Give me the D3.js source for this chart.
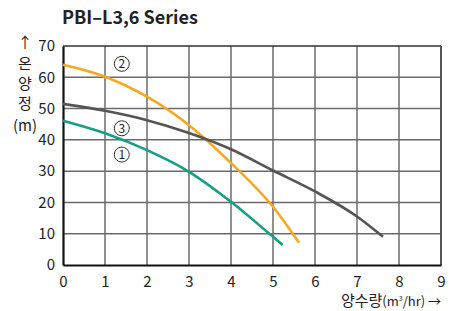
<!DOCTYPE html>
<html>
<head>
<meta charset="utf-8">
<script src="https://cdn.jsdelivr.net/npm/d3@7"></script>
<style>
  body { margin: 0; background: #fff; }
  svg text { font-family: "Noto Sans CJK KR", "Noto Sans", sans-serif; fill: #222; }
</style>
</head>
<body>
<svg id="chart" width="454" height="311"></svg>
<script>
// curves: [flow m3/hr, head m]
var curve1 = [[0, 46.1], [1, 42.1], [2, 36.7], [3, 29.8], [4, 20.2], [5, 9.0], [5.23, 6.4]];
var curve2 = [[0, 64.0], [1, 60.2], [2, 53.8], [3, 44.7], [4, 32.6], [5, 18.6], [5.62, 7.1]];
var curve3 = [[0, 51.5], [1, 49.3], [2, 46.3], [3, 42.2], [4, 37.0], [5, 30.2], [6, 23.5], [7, 15.5], [7.62, 9.0]];
var xTicks = [0, 1, 2, 3, 4, 5, 6, 7, 8, 9];
var yTicks = [0, 10, 20, 30, 40, 50, 60, 70];
var labelNames = ["1", "2", "3"];
var labelPos = [[1.4, 35.3], [1.4, 64.3], [1.4, 43.7]];
var yLabelChars = ["↑", "온", "양", "정", "(m)"];

var svg = d3.select("#chart");
var margin = {top: 46, right: 13, bottom: 46, left: 63},
    width = 454 - margin.left - margin.right,
    height = 311 - margin.top - margin.bottom;

var x = d3.scaleLinear().domain([0, 9]).range([0, width]);
var y = d3.scaleLinear().domain([0, 70]).range([height, 0]);

var g = svg.append("g")
    .attr("transform", "translate(" + margin.left + "," + margin.top + ")");

// grid
g.selectAll(".vgrid").data(xTicks.slice(1, -1)).enter().append("line")
    .attr("x1", function(d) { return x(d); }).attr("x2", function(d) { return x(d); })
    .attr("y1", 0).attr("y2", height)
    .attr("stroke", "#555").attr("stroke-width", 1.3);
g.selectAll(".hgrid").data(yTicks.slice(1, -1)).enter().append("line")
    .attr("y1", function(d) { return y(d); }).attr("y2", function(d) { return y(d); })
    .attr("x1", 0).attr("x2", width)
    .attr("stroke", "#6a6a6a").attr("stroke-width", 1.5);

// frame
g.append("line").attr("x1", 0).attr("x2", width).attr("y1", 0).attr("y2", 0)
    .attr("stroke", "#333").attr("stroke-width", 1.3);
g.append("line").attr("x1", width).attr("x2", width).attr("y1", 0).attr("y2", height)
    .attr("stroke", "#555").attr("stroke-width", 2);

// axes
var xAxis = d3.axisBottom(x).tickValues(xTicks).tickSize(0).tickPadding(11);
var yAxis = d3.axisLeft(y).tickValues(yTicks).tickSize(0).tickPadding(8);

var gx = g.append("g").attr("transform", "translate(0," + height + ")").call(xAxis);
var gy = g.append("g").call(yAxis);
[gx, gy].forEach(function(a) {
  a.select(".domain").attr("stroke", "#111").attr("stroke-width", 2.2);
  a.selectAll("text").attr("font-size", 15).attr("fill", "#222")
    .attr("font-family", "'Noto Sans CJK KR', sans-serif");
});

// curves
var line = d3.line()
    .x(function(d) { return x(d[0]); })
    .y(function(d) { return y(d[1]); })
    .curve(d3.curveMonotoneX);

var series = [
  {data: curve1, color: "#14a085"},
  {data: curve2, color: "#f7a81e"},
  {data: curve3, color: "#555555"}
];
series.forEach(function(s) {
  g.append("path").datum(s.data)
    .attr("d", line)
    .attr("fill", "none")
    .attr("stroke", s.color)
    .attr("stroke-width", 2.6);
});

// circled labels
labelNames.forEach(function(n, i) {
  var cx = x(labelPos[i][0]), cy = y(labelPos[i][1]);
  g.append("circle").attr("cx", cx).attr("cy", cy).attr("r", 7.5)
    .attr("fill", "none").attr("stroke", "#333").attr("stroke-width", 1);
  g.append("text").attr("x", cx).attr("y", cy + 4.5)
    .attr("text-anchor", "middle").attr("font-size", 12).text(n);
});

// title
svg.append("text").attr("x", 62).attr("y", 24)
  .attr("font-size", 18).attr("font-weight", "bold").attr("fill", "#111")
  .text("PBI–L3,6 Series");

// y axis label, stacked
var yLabY = [48, 69, 89, 109, 131];
yLabelChars.forEach(function(c, i) {
  svg.append("text").attr("x", 25).attr("y", yLabY[i])
    .attr("text-anchor", "middle").attr("font-size", 15).text(c);
});

// x axis title
var xt = svg.append("text").attr("x", 441).attr("y", 306)
  .attr("text-anchor", "end").attr("font-size", 15);
xt.append("tspan").text("양수량");
xt.append("tspan").attr("font-size", 13).text("(m");
xt.append("tspan").attr("font-size", 7).attr("dy", -5).text("3");
xt.append("tspan").attr("font-size", 13).attr("dy", 5).text("/hr) →");
</script>
</body>
</html>
